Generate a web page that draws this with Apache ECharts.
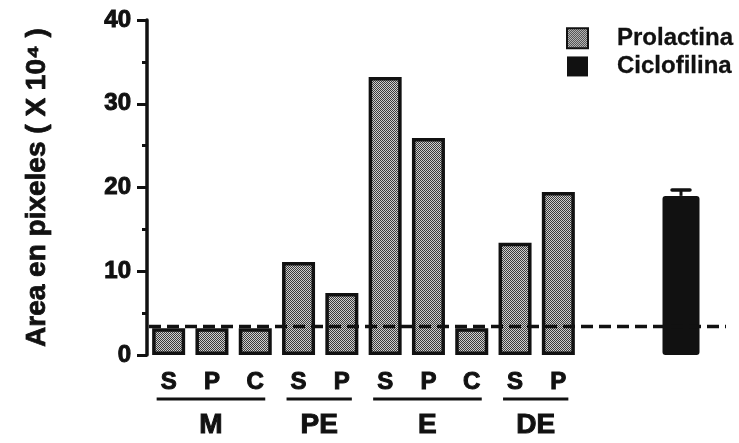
<!DOCTYPE html>
<html>
<head>
<meta charset="utf-8">
<script src="https://cdn.jsdelivr.net/npm/echarts@6/dist/echarts.min.js"></script>
<style>
html,body{margin:0;padding:0;background:#fff;}
#chart{width:739px;height:443px;}
</style>
</head>
<body>
<div id="chart"></div>
<script>
// ---- data ----
const categories = ['S', 'P', 'C', 'S', 'P', 'S', 'P', 'C', 'S', 'P'];
const prolactina = [3.2, 3.2, 3.2, 11.1, 7.4, 33.2, 25.9, 3.2, 13.4, 19.45];
const groups = ['M', 'PE', 'E', 'DE'];
const groupStart = [0, 3, 5, 8];
const groupEnd = [2, 4, 7, 9];
const cicloCategory = ['Ciclofilina'];
const ciclofilina = [19.0];
const cicloErrorTop = [19.7];
const baselineValue = 3.4;
const yTicks = [0, 10, 20, 30, 40];

const FONT = '"Liberation Sans", Arial, Helvetica, sans-serif';
const INK = '#111';

// stipple pattern
const pc = document.createElement('canvas');
pc.width = 2; pc.height = 2;
const pctx = pc.getContext('2d');
pctx.fillStyle = '#cfcfcf'; pctx.fillRect(0, 0, 2, 2);
pctx.fillStyle = '#3c3c3c'; pctx.fillRect(0, 0, 1, 1); pctx.fillRect(1, 1, 1, 1);
const pattern = { image: pc, repeat: 'repeat' };

const chart = echarts.init(document.getElementById('chart'), null, { renderer: 'canvas' });

const gridTop = 20, gridBottom = 88;
const heavy = (size, stroke) => ({
  fontFamily: FONT, fontWeight: 'bold', fontSize: size, color: INK,
  textBorderColor: INK, textBorderWidth: stroke
});

const option = {
  animation: false,
  backgroundColor: '#ffffff',
  legend: {
    orient: 'vertical',
    left: 561,
    top: 21,
    itemWidth: 21,
    itemHeight: 20,
    itemGap: 4,
    icon: 'rect',
    textStyle: Object.assign(heavy(24, 0.3), { padding: [0, 0, 0, 24] }),
    data: ['Prolactina', 'Ciclofilina']
  },
  grid: [
    { left: 147, width: 433, top: gridTop, bottom: gridBottom },
    { left: 660, width: 42, top: gridTop, bottom: gridBottom }
  ],
  xAxis: [
    {
      gridIndex: 0, type: 'category', data: categories,
      axisLine: { show: false }, axisTick: { show: false },
      axisLabel: Object.assign(heavy(24, 1), { margin: 15, interval: 0 })
    },
    {
      gridIndex: 1, type: 'category', data: cicloCategory,
      axisLine: { show: false }, axisTick: { show: false }, axisLabel: { show: false }
    }
  ],
  yAxis: [
    {
      gridIndex: 0, type: 'value', min: yTicks[0], max: yTicks[yTicks.length - 1], interval: 10,
      name: 'Area en pixeles ( X 10\u2074 )',
      nameLocation: 'middle', nameGap: 96, nameRotate: 90,
      nameTextStyle: heavy(28, 0.8),
      axisLine: { show: true, lineStyle: { color: INK, width: 3.5 } },
      axisTick: { show: true, length: 10, lineStyle: { color: INK, width: 3 } },
      minorTick: { show: true, splitNumber: 2, length: 5, lineStyle: { color: INK, width: 3 } },
      splitLine: { show: false },
      axisLabel: Object.assign(heavy(24, 1), { margin: 16 })
    },
    {
      gridIndex: 1, type: 'value', min: 0, max: 40, interval: 10,
      axisLine: { show: false }, axisTick: { show: false }, axisLabel: { show: false }, splitLine: { show: false }
    }
  ],
  series: [
    {
      name: 'Prolactina', type: 'bar', xAxisIndex: 0, yAxisIndex: 0,
      data: prolactina, barWidth: 33,
      itemStyle: { color: pattern, borderColor: INK, borderWidth: 3.5 }
    },
    {
      name: 'Ciclofilina', type: 'bar', xAxisIndex: 1, yAxisIndex: 1,
      data: ciclofilina, barWidth: 37,
      itemStyle: { color: INK, borderRadius: 3 }
    },
    {
      name: 'err', type: 'custom', xAxisIndex: 1, yAxisIndex: 1,
      data: ciclofilina.map((v, i) => [i, v, cicloErrorTop[i]]),
      renderItem: function (params, api) {
        const p0 = api.coord([api.value(0), api.value(1)]);
        const y1 = api.coord([api.value(0), api.value(2)])[1];
        const x = p0[0];
        return {
          type: 'group',
          children: [
            { type: 'line', shape: { x1: x, y1: p0[1], x2: x, y2: y1 }, style: { stroke: INK, lineWidth: 3 } },
            { type: 'line', shape: { x1: x - 9, y1: y1, x2: x + 9, y2: y1 }, style: { stroke: INK, lineWidth: 3.5, lineCap: 'round' } }
          ]
        };
      },
      z: 3
    }
  ]
};

chart.setOption(option);

// annotations derived from axis scales
const graphics = [];
const yBase = chart.convertToPixel({ yAxisIndex: 0 }, baselineValue);
graphics.push({
  type: 'line', z: 100,
  shape: { x1: 149, y1: yBase, x2: 726, y2: yBase },
  style: { stroke: INK, lineWidth: 3.5, lineDash: [12, 6] }
});
for (let g = 0; g < groups.length; g++) {
  const xs = chart.convertToPixel({ xAxisIndex: 0 }, groupStart[g]);
  const xe = chart.convertToPixel({ xAxisIndex: 0 }, groupEnd[g]);
  const x1 = xs - 12, x2 = xe + 10;
  graphics.push({
    type: 'line', shape: { x1: x1, y1: 399, x2: x2, y2: 399 },
    style: { stroke: INK, lineWidth: 3 }
  });
  graphics.push({
    type: 'text', x: (x1 + x2) / 2, y: 425,
    style: { text: groups[g], fontFamily: FONT, fontWeight: 'bold', fontSize: 28, fill: INK,
             stroke: INK, lineWidth: 1, align: 'center', verticalAlign: 'middle' }
  });
}
chart.setOption({ graphic: graphics });
</script>
</body>
</html>
